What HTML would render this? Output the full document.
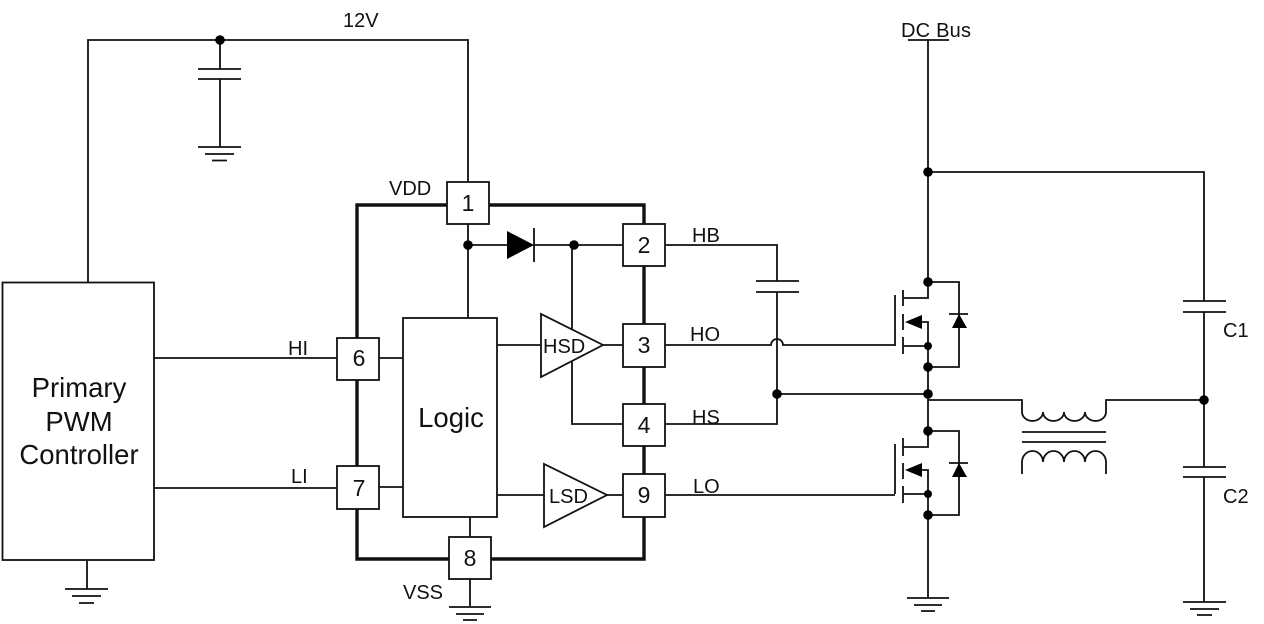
<!DOCTYPE html>
<html>
<head>
<meta charset="utf-8">
<style>
html,body{margin:0;padding:0;background:#fff;width:1264px;height:624px;overflow:hidden}
svg{display:block}
text{font-family:"Liberation Sans",Arial,sans-serif;fill:#111}
.l{font-size:20px}
.n{font-size:23px;text-anchor:middle}
.b{font-size:27.5px;text-anchor:middle}
</style>
</head>
<body>
<svg width="1264" height="624" viewBox="0 0 1264 624" xmlns="http://www.w3.org/2000/svg">
<g fill="none" stroke="#111" stroke-width="1.8">
<!-- thick IC outline -->
<path d="M447 205H357V559H644V205H489" stroke-width="3.4"/>
<!-- 12V rail -->
<path d="M88 282V40H468V182"/>
<path d="M220 40V69M198 69H241M198 79H241M220 79V147M198 147H241M205 154H234M212 160.500H227"/>
<!-- controller -->
<rect x="2.500" y="282.500" width="151.500" height="277.500"/>
<path d="M87 560V589M65 589H108M72 596H101M79 603H94"/>
<path d="M154 358H337M154 488H337M379 358H403M379 487H403"/>
<!-- internal -->
<path d="M468 224V318"/>
<path d="M468 245H507M534 245H623M572 245V424H623"/>
<path d="M534 228V262"/>
<path d="M497 345H541M603 345H623M497 495H544M607 495H623"/>
<path d="M470 517V537M470 579V606M449 607H491M456 614H484M463 620H477"/>
<!-- outputs -->
<path d="M665 245H777V281M756 281H799M756 292H799M777 292V424H665"/>
<path d="M665 345H771A6 6 0 0 1 783 345H895M895 295V346"/>
<path d="M665 495H895M895 444V494"/>
<path d="M777 394H928"/>
<!-- DC bus and main column -->
<path d="M908 40H949M928 40V282"/>
<path d="M928 172H1204V301M1183 301H1226M1183 312H1226M1204 312V467M1183 467H1226M1183 477H1226M1204 477V602M1183 602H1226M1190 609H1219M1197 615H1212"/>
<!-- top FET -->
<path d="M903 290V306M903 314V330M903 337V354"/>
<path d="M903 298H928V282H959V367H928M903 346H928M920 322H928V367"/>
<path d="M949 314H968"/>
<!-- lower FET -->
<path d="M903 438V456M903 463V479M903 486V503"/>
<path d="M928 367V431M903 447H928V431H959V515H928M903 494H928M920 470H928V515"/>
<path d="M949 463H968"/>
<path d="M928 515V598M907 598H949M914 605H942M921 611H935"/>
<!-- transformer -->
<path d="M928 400H1022V412A10.500 9 0 0 0 1043 412A10.500 9 0 0 0 1064 412A10.500 9 0 0 0 1085 412A10.500 9 0 0 0 1106 412V400H1204"/>
<path d="M1022 432H1106M1022 442H1106"/>
<path d="M1022 474V462A10.500 11 0 0 1 1043 462A10.500 11 0 0 1 1064 462A10.500 11 0 0 1 1085 462A10.500 11 0 0 1 1106 462V474"/>
<!-- boxes -->
<g fill="#fff">
<rect x="403" y="318" width="94" height="199"/>
<path d="M541 314V377L603 345Z"/>
<path d="M544 464V527L607 495Z"/>
<rect x="447" y="182" width="42" height="42"/>
<rect x="623" y="224" width="42" height="42"/>
<rect x="623" y="324" width="42" height="43"/>
<rect x="623" y="404" width="42" height="42"/>
<rect x="337" y="338" width="42" height="42"/>
<rect x="337" y="466" width="42" height="43"/>
<rect x="449" y="537" width="42" height="42"/>
<rect x="623" y="474" width="42" height="43"/>
</g>
</g>
<g fill="#000">
<circle cx="220" cy="40" r="4.800"/>
<circle cx="468" cy="245" r="4.800"/>
<circle cx="574" cy="245" r="4.800"/>
<circle cx="777" cy="394" r="4.800"/>
<circle cx="928" cy="172" r="4.800"/>
<circle cx="928" cy="282" r="4.800"/>
<circle cx="928" cy="346" r="4"/>
<circle cx="928" cy="367" r="4.800"/>
<circle cx="928" cy="394" r="4.800"/>
<circle cx="928" cy="431" r="4.800"/>
<circle cx="928" cy="494" r="4"/>
<circle cx="928" cy="515" r="4.800"/>
<circle cx="1204" cy="400" r="4.800"/>
<path d="M507 231V259L534 245Z"/>
<path d="M905 322L922 315V329Z"/>
<path d="M905 470L922 463V477Z"/>
<path d="M959 314L952 328H967Z"/>
<path d="M959 463L952 477H967Z"/>
</g>
<text class="l" x="343" y="27">12V</text>
<text class="l" x="901" y="37" textLength="70">DC Bus</text>
<text class="l" x="389" y="195">VDD</text>
<text class="l" x="692" y="242">HB</text>
<text class="l" x="690" y="341">HO</text>
<text class="l" x="692" y="424">HS</text>
<text class="l" x="693" y="493">LO</text>
<text class="l" x="288" y="355">HI</text>
<text class="l" x="291" y="483">LI</text>
<text class="l" x="403" y="599">VSS</text>
<text class="l" x="543" y="353">HSD</text>
<text class="l" x="549" y="503">LSD</text>
<text class="l" x="1223" y="337">C1</text>
<text class="l" x="1223" y="503">C2</text>
<text class="n" x="468" y="211">1</text>
<text class="n" x="644" y="253">2</text>
<text class="n" x="644" y="353">3</text>
<text class="n" x="644" y="433">4</text>
<text class="n" x="359" y="366">6</text>
<text class="n" x="359" y="496">7</text>
<text class="n" x="470" y="566">8</text>
<text class="n" x="644" y="503">9</text>
<text class="b" x="79" y="397">Primary</text>
<text class="b" x="79" y="431">PWM</text>
<text class="b" x="79" y="464">Controller</text>
<text class="b" x="451" y="427">Logic</text>
</svg>
</body>
</html>
